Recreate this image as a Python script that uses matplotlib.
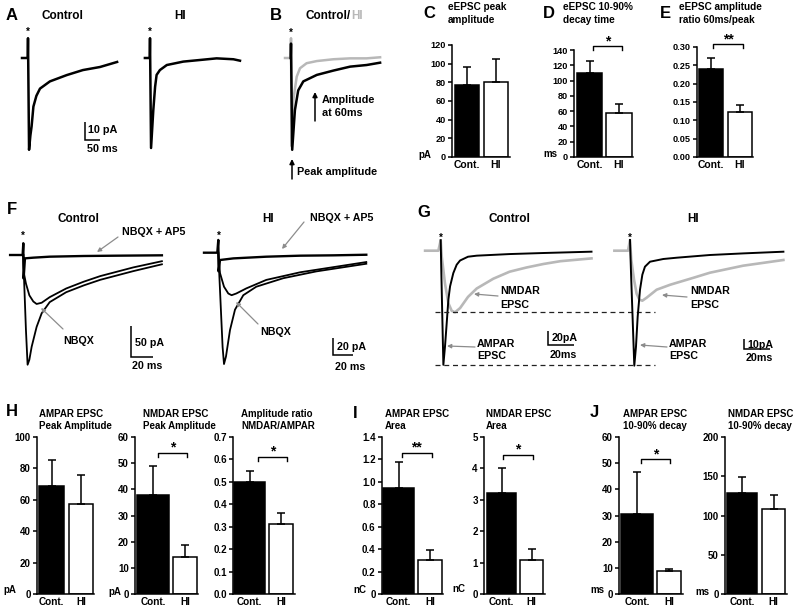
import matplotlib
matplotlib.use('Agg')
import matplotlib.pyplot as plt
import numpy as np

W, H = 800, 613
plt.rcParams['font.family'] = ['Liberation Sans', 'DejaVu Sans']
plt.rcParams['font.weight'] = 'bold'
plt.rcParams['axes.linewidth'] = 1.1

GRAY = '#b8b8b8'
ARROW = '#8c8c8c'
groups = ['Cont.', 'HI']

# example traces: time in ms from stimulus, current in pA
a_ctrl_t = [-20, -1, 0, 3.5, 8, 12, 18, 28, 40, 73, 129, 183, 240, 297]
a_ctrl_i = [0, 0, 11, -51, -43, -38, -27, -21, -17, -13, -9.5, -6.7, -5.0, -2.2]
a_hi_t = [-17, -1, 0, 3.5, 11, 17, 22, 33, 56, 111, 167, 222, 278, 300]
a_hi_i = [0, 0, 11, -50, -29, -16, -9.4, -6.7, -3.9, -2.0, -1.1, -0.2, -0.7, -1.5]

b_ctrl_t = [-1, 0, 4, 13, 24, 41, 86, 141, 197, 252, 297]
b_ctrl_i = [0, 8, -51, -29, -18, -13, -9.4, -7.0, -4.8, -3.9, -2.6]
b_hi_t = [-20, -1, 0, 2, 8, 19, 30, 52, 86, 141, 197, 252, 297]
b_hi_i = [0, 0, 11, -49, -23, -10.4, -5.7, -2.9, -1.7, -0.7, -0.2, -0.2, 0.4]

f_ctrl_ap5_t = [-12, -0.6, 0, 0.3, 1.5, 9.1, 24, 55, 85, 126]
f_ctrl_ap5_i = [0, 0, 19, -38, -5.4, -4.3, -2.7, -1.6, -1.1, -0.5]
f_ctrl_nbqx_t = [0, 0.6, 2.4, 5.5, 9.1, 12.1, 16.7, 24, 39, 55, 70, 85, 100, 126]
f_ctrl_nbqx_i = [0, -30, -46, -65, -75, -79, -77, -68, -54, -43, -34, -27, -20, -10]
f_ctrl_all_t = [0, 0.6, 2.4, 3.9, 5.5, 7.6, 12.1, 16.7, 24, 39, 55, 70, 85, 100, 126]
f_ctrl_all_i = [0, -35, -121, -177, -169, -148, -116, -94, -76, -60, -49, -40, -33, -26, -15]

f_hi_ap5_t = [-14.3, -1, 0, 0.3, 1.7, 15, 48, 82, 115, 148]
f_hi_ap5_i = [0, 0, 15, -22, -8.6, -6.7, -4.7, -3.5, -3.1, -2.4]
f_hi_nbqx_t = [0, 1.7, 5.7, 10, 13.3, 18, 28, 48, 82, 115, 148]
f_hi_nbqx_i = [0, -24, -40, -48, -50, -48, -42, -32, -23, -17, -11]
f_hi_all_t = [0, 1.7, 4.3, 5.7, 7.7, 11.7, 16.7, 25, 38, 65, 98, 148]
f_hi_all_i = [0, -44, -111, -131, -122, -91, -67, -50, -40, -30, -22, -13]

g_ctrl_ampa_t = [0, 0.5, 2.05, 3.3, 4.6, 5.9, 7.2, 9.7, 12.3, 14.9, 21, 27.7, 53, 79, 116]
g_ctrl_ampa_i = [15, -32, -163, -137, -104, -70, -51, -32, -20, -14, -8.6, -7.1, -4.8, -3.3, -1.4]
g_ctrl_nmda_t = [-12, -1.8, 0, 0.8, 3.3, 5.9, 8.5, 11, 14.9, 21, 27.7, 40.5, 53, 66, 79, 92, 116]
g_ctrl_nmda_i = [0, 0, 15, -8.6, -47, -75, -86, -88, -82, -66, -54, -40, -30, -24, -19, -15, -11]

g_hi_ampa_t = [0, 0.8, 3.3, 4.6, 5.9, 7.7, 9.5, 11.5, 15.4, 25.6, 36, 61.5, 87, 118]
g_hi_ampa_i = [10.7, -22.7, -115, -96, -66, -39, -24, -16, -11, -8.3, -7, -4.3, -2.7, -1]
g_hi_nmda_t = [-12, -1.5, 0, 1, 3.1, 5.1, 7.2, 9.5, 12.8, 20.5, 31, 49, 61.5, 87, 118]
g_hi_nmda_i = [0, 0, 10.7, -9.3, -29, -43, -49, -50, -47, -39, -34, -27, -22, -15, -9.3]

# bar values (mean, upper error)
c_vals, c_errs = [77, 80], [19.5, 25.5]
d_vals, d_errs = [110, 57], [15.5, 12.5]
e_vals, e_errs = [0.239, 0.124], [0.032, 0.018]
h1_vals, h1_errs = [68.6, 57.2], [16.6, 18.4]
h2_vals, h2_errs = [38, 14.2], [11.1, 4.5]
h3_vals, h3_errs = [0.50, 0.313], [0.049, 0.046]
i1_vals, i1_errs = [0.943, 0.30], [0.237, 0.09]
i2_vals, i2_errs = [3.22, 1.07], [0.78, 0.35]
j1_vals, j1_errs = [30.5, 8.6], [16.2, 0.8]
j2_vals, j2_errs = [128.6, 108.4], [20.6, 18.1]

c_ticks = ['0', '20', '40', '60', '80', '100', '120']
d_ticks = ['0', '20', '40', '60', '80', '100', '120', '140']
e_ticks = ['0.00', '0.05', '0.10', '0.15', '0.20', '0.25', '0.30']
h1_ticks = ['0', '20', '40', '60', '80', '100']
h2_ticks = ['0', '10', '20', '30', '40', '50', '60']
h3_ticks = ['0.0', '0.1', '0.2', '0.3', '0.4', '0.5', '0.6', '0.7']
i1_ticks = ['0', '0.2', '0.4', '0.6', '0.8', '1.0', '1.2', '1.4']
i2_ticks = ['0', '1', '2', '3', '4', '5']
j1_ticks = ['0', '10', '20', '30', '40', '50', '60']
j2_ticks = ['0', '50', '100', '150', '200']

fig = plt.figure(figsize=(W / 100, H / 100), dpi=100)


def rect(l, t, r, b):
    return [l / W, 1 - b / H, (r - l) / W, (b - t) / H]


def txt(x, y, s, size=7.7, ha='left', **kw):
    # x, y in pixels, y is the baseline
    return fig.text(x / W, 1 - y / H, s, size=size, ha=ha, va='baseline', **kw)


def mid(x, y, s, size=7.7, ha='left', **kw):
    # y is the middle of the capitals
    txt(x, y + 0.36 * size * 100 / 72, s, size, ha, **kw)


def star(x, y, size=7):
    txt(x, y + 0.58 * size * 100 / 72, '*', size, 'center')


def trace_ax(ox, oy, ms_px, pa_px):
    # transparent axes over the figure; pixel (ox, oy) is t=0, I=0
    ax = fig.add_axes([0, 0, 1, 1])
    ax.set_xlim(-ox * ms_px, (W - ox) * ms_px)
    ax.set_ylim((oy - H) * pa_px, oy * pa_px)
    ax.axis('off')
    ax.patch.set_alpha(0)

    def p(x, y):
        return ((x - ox) * ms_px, (oy - y) * pa_px)
    return ax, p


def scalebar(ax, p, x, y, ms, pa):
    x0, y0 = p(x, y)
    ax.plot([x0, x0, x0 + ms], [y0 + pa, y0, y0], color='k', lw=1.1,
            solid_joinstyle='miter', solid_capstyle='butt')


def arrow(ax, p, x0, y0, x1, y1, color=ARROW, lw=0.9, ms=6):
    ax.annotate('', xy=p(x1, y1), xytext=p(x0, y0),
                arrowprops=dict(arrowstyle='-|>', color=color, lw=lw,
                                mutation_scale=ms, shrinkA=0, shrinkB=0))


def bar_panel(l, t, r, b, vals, errs, labels, spans, unit, unit_off,
              sig=None, bracket=None, tsize=6.6, xsize=7.5):
    ax = fig.add_axes(rect(l, t, r, b))
    ymax = float(labels[-1])
    lefts = [s[0] for s in spans]
    widths = [s[1] - s[0] for s in spans]
    centers = [(s[0] + s[1]) / 2 for s in spans]
    ax.bar(lefts, vals, width=widths, align='edge', color=['k', 'w'],
           edgecolor='k', lw=1.1, zorder=2)
    ax.errorbar(centers, vals, yerr=[[0, 0], errs], fmt='none', ecolor='k',
                elinewidth=1.1, capsize=2.9, capthick=1.1, zorder=3)
    ax.set_xlim(0, r - l)
    ax.set_ylim(0, ymax)
    ax.set_yticks(np.linspace(0, ymax, len(labels)))
    ax.set_yticklabels(labels, size=tsize)
    ax.set_xticks(centers)
    ax.set_xticklabels(groups, size=xsize)
    ax.tick_params(axis='y', length=3, width=1.1, pad=1.5)
    ax.tick_params(axis='x', length=0, pad=2.5)
    ax.spines['top'].set_visible(False)
    ax.spines['right'].set_visible(False)
    ax.annotate(unit, xy=(0, 0), xycoords='axes fraction', xytext=unit_off,
                textcoords='offset pixels', ha='center', va='center', size=7)
    if sig:
        (x1, x2), yb = bracket
        drop = 4 * ymax / (b - t)
        ax.plot([x1, x1, x2, x2], [yb - drop, yb, yb, yb - drop], color='k',
                lw=1.0, clip_on=False)
        ax.annotate(sig, xy=((x1 + x2) / 2, yb), xytext=(0, 1),
                    textcoords='offset pixels', ha='center', va='baseline',
                    size=10, annotation_clip=False)
    return ax


# ---------- A ----------
ax, p = trace_ax(28, 58, 50 / 15, 10 / 18)
ax.plot(a_ctrl_t, a_ctrl_i, color='k', lw=1.8)
scalebar(ax, p, 85, 140, 50, 10)
ax, p = trace_ax(150, 58, 50 / 15, 10 / 18)
ax.plot(a_hi_t, a_hi_i, color='k', lw=1.8)
txt(6, 20, 'A', 12)
txt(62, 19.3, 'Control', 8.5, 'center')
txt(180, 19.3, 'HI', 8.5, 'center')
star(28, 29)
star(150, 29)
mid(88, 129, '10 pA', 7.8)
mid(87, 148.5, '50 ms', 7.8)

# ---------- B ----------
ax, p = trace_ax(291, 58, 50 / 15, 10 / 18)
ax.plot(b_hi_t, b_hi_i, color=GRAY, lw=1.8)
ax.plot(b_ctrl_t, b_ctrl_i, color='k', lw=1.8)
arrow(ax, p, 315, 121, 315, 92, color='k', lw=1.1, ms=7)
arrow(ax, p, 292, 179, 292, 159, color='k', lw=1.1, ms=7)
txt(270, 20, 'B', 12)
t_ctrl = txt(305, 19.3, 'Control/', 8.5)
ax.annotate('HI', xy=(1, 0), xycoords=t_ctrl, xytext=(0.5, 0),
            textcoords='offset points', ha='left', va='bottom', size=8.5,
            color=GRAY)
star(291, 30)
mid(322, 99.5, 'Amplitude', 7.8)
mid(322, 112, 'at 60ms', 7.8)
mid(297, 171, 'Peak amplitude', 7.8)

# ---------- C, D, E ----------
bar_panel(452, 45, 510, 157, c_vals, c_errs, c_ticks, [(3, 27), (32, 56)],
          'pA', (-27, 2))
bar_panel(574, 50, 633, 157, d_vals, d_errs, d_ticks, [(3, 28), (32, 58)],
          'ms', (-24, 3), '*', ((19, 48), 145))
bar_panel(697, 47, 753, 157, e_vals, e_errs, e_ticks, [(2, 26), (31, 55)],
          '', (0, 0), '**', ((16, 46), 0.308))
txt(423, 18.3, 'C', 12)
txt(543, 18.3, 'D', 12)
txt(660, 18.3, 'E', 12)
txt(448, 10.3, 'eEPSC peak', 7.2)
txt(448, 23, 'amplitude', 7.2)
txt(563, 10.3, 'eEPSC 10-90%', 7.2)
txt(563, 23, 'decay time', 7.2)
txt(679, 10.3, 'eEPSC amplitude', 7.2)
txt(679, 23, 'ratio 60ms/peak', 7.2)

# ---------- F ----------
ax, p = trace_ax(23.3, 255, 20 / 22, 50 / 31)
ax.plot(f_ctrl_ap5_t, f_ctrl_ap5_i, color='k', lw=1.7)
ax.plot(f_ctrl_nbqx_t, f_ctrl_nbqx_i, color='k', lw=1.3)
ax.plot(f_ctrl_all_t, f_ctrl_all_i, color='k', lw=1.3)
scalebar(ax, p, 131, 357, 20, 50)
arrow(ax, p, 118, 237, 97, 252)
arrow(ax, p, 63, 329, 41, 308)
ax, p = trace_ax(218.3, 252.7, 1.0, 20 / 17)
ax.plot(f_hi_ap5_t, f_hi_ap5_i, color='k', lw=1.7)
ax.plot(f_hi_nbqx_t, f_hi_nbqx_i, color='k', lw=1.3)
ax.plot(f_hi_all_t, f_hi_all_i, color='k', lw=1.3)
scalebar(ax, p, 333, 355, 20, 20)
arrow(ax, p, 304, 222, 282, 249)
arrow(ax, p, 258, 324, 236, 302)
txt(7, 214, 'F', 12)
txt(78.5, 221.5, 'Control', 8.5, 'center')
txt(268.5, 221.5, 'HI', 8.5, 'center')
star(23, 233)
star(219, 233)
mid(122, 231, 'NBQX + AP5')
mid(63, 340, 'NBQX')
mid(135, 342, '50 pA')
mid(132, 365, '20 ms')
mid(310, 217.5, 'NBQX + AP5')
mid(260, 331, 'NBQX')
mid(337, 346, '20 pA')
mid(335, 366, '20 ms')

# ---------- G ----------
ax, p = trace_ax(440.7, 250.7, 20 / 26, 20 / 14)
ax.plot(g_ctrl_nmda_t, g_ctrl_nmda_i, color=GRAY, lw=1.9)
ax.plot(g_ctrl_ampa_t, g_ctrl_ampa_i, color='k', lw=1.4)
xa = p(435, 0)[0]
xb = p(655, 0)[0]
for lev in (min(g_ctrl_ampa_i), min(g_ctrl_nmda_i)):
    ax.plot([xa, xb], [lev, lev], color='#222222', lw=0.9, ls=(0, (4, 3)))
scalebar(ax, p, 548, 345, 20, 20)
arrow(ax, p, 498, 296, 474, 294)
arrow(ax, p, 475, 347, 447, 346)
ax, p = trace_ax(630, 250.7, 20 / 26, 1.0)
ax.plot(g_hi_nmda_t, g_hi_nmda_i, color=GRAY, lw=1.9)
ax.plot(g_hi_ampa_t, g_hi_ampa_i, color='k', lw=1.4)
scalebar(ax, p, 744, 349, 20, 10)
arrow(ax, p, 687, 297, 662, 295)
arrow(ax, p, 667, 347, 640, 345)
txt(417, 217, 'G', 12)
txt(509.5, 221.5, 'Control', 8.5, 'center')
txt(693, 221.5, 'HI', 8.5, 'center')
star(441, 235)
star(630, 235)
for x0 in (500, 690):
    mid(x0, 290.5, 'NMDAR')
    mid(x0, 304, 'EPSC')
for x0 in (477, 669):
    mid(x0, 343, 'AMPAR')
    mid(x0, 355.5, 'EPSC')
mid(552, 337, '20pA')
mid(550, 354, '20ms')
mid(747, 344, '10pA')
mid(746, 357, '20ms')

# ---------- H, I, J ----------
bs = dict(tsize=7, xsize=7.2)
bar_panel(37, 437, 94, 594, h1_vals, h1_errs, h1_ticks, [(2, 27), (32, 56)],
          'pA', (-27, 4), **bs)
bar_panel(135, 437, 198, 594, h2_vals, h2_errs, h2_ticks, [(2, 34), (38, 62)],
          'pA', (-20, 2), '*', ((22.7, 52.3), 54), **bs)
bar_panel(233, 437, 295, 594, h3_vals, h3_errs, h3_ticks, [(1, 32), (36, 60)],
          '', (0, 0), '*', ((24.7, 54.3), 0.612), **bs)
bar_panel(382, 437, 443, 594, i1_vals, i1_errs, i1_ticks, [(1, 32), (36, 60)],
          'nC', (-22, 4), '**', ((19.7, 49.7), 1.26), **bs)
bar_panel(484, 437, 545, 594, i2_vals, i2_errs, i2_ticks, [(3, 32), (36, 59)],
          'nC', (-25, 5), '*', ((19.3, 48.7), 4.43), **bs)
bar_panel(619, 437, 683, 594, j1_vals, j1_errs, j1_ticks, [(2, 34), (38, 62)],
          'ms', (-22, 4), '*', ((21.7, 51), 51.5), **bs)
bar_panel(725, 437, 787, 594, j2_vals, j2_errs, j2_ticks, [(2, 32), (37, 60)],
          'ms', (-23, 2), **bs)

txt(6, 416, 'H', 12)
txt(353, 418, 'I', 12)
txt(590, 416.7, 'J', 12)
for x0, l1, l2 in [(39, 'AMPAR EPSC', 'Peak Amplitude'),
                   (143, 'NMDAR EPSC', 'Peak Amplitude'),
                   (241, 'Amplitude ratio', 'NMDAR/AMPAR'),
                   (385, 'AMPAR EPSC', 'Area'),
                   (486, 'NMDAR EPSC', 'Area'),
                   (623, 'AMPAR EPSC', '10-90% decay'),
                   (728, 'NMDAR EPSC', '10-90% decay')]:
    txt(x0, 417, l1, 7)
    txt(x0, 429, l2, 7)

fig.savefig('out.png', dpi=100)
